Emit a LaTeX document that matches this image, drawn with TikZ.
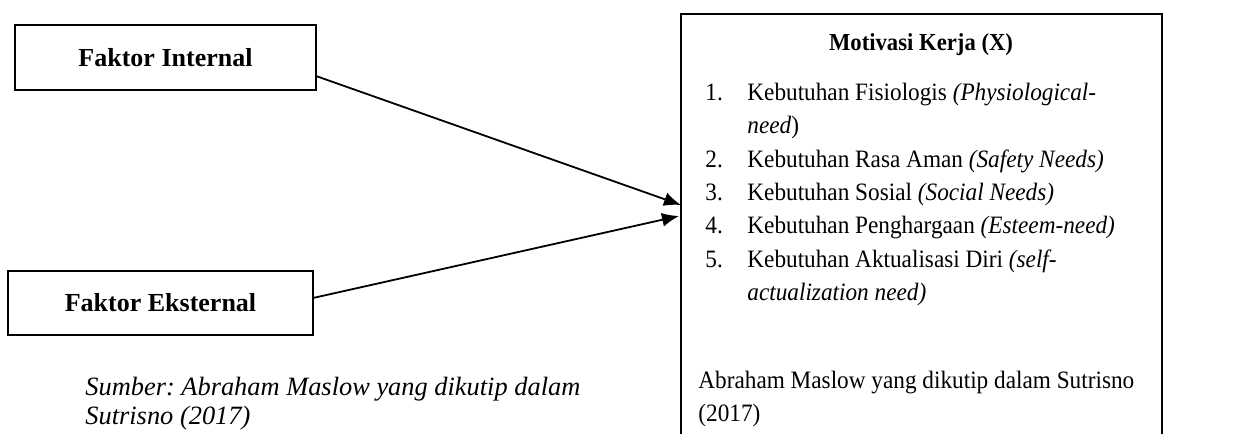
\documentclass[tikz,border=0pt]{standalone}
\usepackage{fontspec}
\setmainfont{Liberation Serif}
\newfontfamily\isifont{Liberation Serif}[FakeStretch=0.93]
\frenchspacing
\usetikzlibrary{arrows.meta}

\tikzset{
  faktor/.style={draw, line width=0.7pt, minimum width=150.5pt, minimum height=32.5pt,
    font=\fontsize{13}{16}\selectfont\bfseries},
  teks/.style={anchor=base west, inner sep=0pt, font=\isifont\fontsize{12.5}{16.5}\selectfont},
  panah/.style={line width=0.9pt, -{Latex[length=8.5pt,width=7pt]}}
}

\begin{document}
\begin{tikzpicture}[x=0.5pt,y=-0.5pt]
\useasboundingbox (0,0) rectangle (1238,434);
\clip (0,0) rectangle (1238,434);

% kotak faktor
\node[faktor] (ki) at (165.5,57.5) {Faktor Internal};
\node[faktor, minimum width=152.5pt, minimum height=32pt] (ke) at (160.5,303) {Faktor Eksternal};

% kotak motivasi (terbuka di bawah)
\node[draw, line width=0.8pt, anchor=north west, minimum width=240.5pt, minimum height=240pt,
  inner sep=0pt] (mk) at (680,13) {};
\node[teks, anchor=base, font=\isifont\fontsize{12.2}{16.5}\selectfont\bfseries] (judul) at (921,50) {Motivasi Kerja (X)};

\node[teks] (n1) at (705,100) {1.};
\node[teks] (k1) at (747,100) {Kebutuhan Fisiologis \textit{(Physiological-}};
\node[teks] (k1b) at (747,133) {\textit{need})};
\node[teks] (n2) at (705,167) {2.};
\node[teks] (k2) at (747,167) {Kebutuhan Rasa Aman \textit{(Safety Needs)}};
\node[teks] (n3) at (705,200) {3.};
\node[teks] (k3) at (747,200) {Kebutuhan Sosial \textit{(Social Needs)}};
\node[teks] (n4) at (705,233) {4.};
\node[teks] (k4) at (747,233) {Kebutuhan Penghargaan \textit{(Esteem-need)}};
\node[teks] (n5) at (705,267) {5.};
\node[teks] (k5) at (747,267) {Kebutuhan Aktualisasi Diri \textit{(self-}};
\node[teks] (k5b) at (747,300) {\textit{actualization need)}};

\node[teks] (sb1) at (698,388) {Abraham Maslow yang dikutip dalam Sutrisno};
\node[teks] (sb2) at (698,421) {(2017)};

% sumber kiri
\node[teks, font=\fontsize{13.2}{16.5}\selectfont\itshape] (sm1) at (85,395) {Sumber: Abraham Maslow yang dikutip dalam};
\node[teks, font=\fontsize{13.2}{16.5}\selectfont\itshape] (sm2) at (85,424) {Sutrisno (2017)};

% panah
\coordinate (a1) at (316,76);
\coordinate (a2) at (313,298);
\coordinate (t1) at (681,205);
\coordinate (t2) at (679,216);
\draw[panah] (a1) -- (t1);
\draw[panah] (a2) -- (t2);
\end{tikzpicture}
\end{document}
